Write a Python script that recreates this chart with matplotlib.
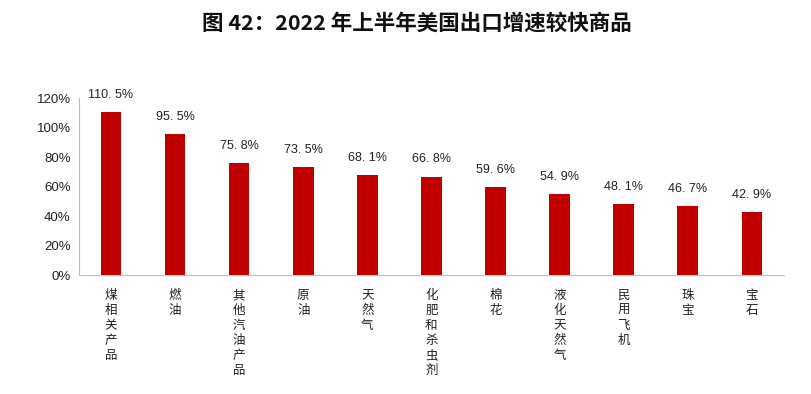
import numpy as np
import matplotlib.pyplot as plt

plt.rcParams['font.family'] = ['Noto Sans CJK SC', 'DejaVu Sans']

categories = ['煤相关产品', '燃油', '其他汽油产品', '原油', '天然气', '化肥和杀虫剂',
              '棉花', '液化天然气', '民用飞机', '珠宝', '宝石']
growth = [110.5, 95.5, 75.8, 73.5, 68.1, 66.8, 59.6, 54.9, 48.1, 46.7, 42.9]
yticks = [0, 20, 40, 60, 80, 100, 120]

fig = plt.figure(figsize=(8.12, 3.94), dpi=100)
ax = fig.add_axes([0.0973, 0.302, 0.868, 0.449])

x = np.arange(len(categories))
ax.bar(x, growth, width=0.32, color='#C00000')
for xi, v in zip(x, growth):
    ax.text(xi, v + 7.5, f'{v:.1f}%'.replace('.', '. '), ha='center', va='bottom',
            fontsize=9, family=['Liberation Sans', 'DejaVu Sans'], color='#222222',
            clip_on=False)

ax.set_xlim(-0.5, len(categories) - 0.5)
ax.set_ylim(0, 120)
ax.set_yticks(yticks)
ax.set_yticklabels([f'{t}%' for t in yticks], family=['Liberation Sans', 'DejaVu Sans'],
                   fontsize=9.5, color='#222222')
ax.set_xticks(x)
ax.set_xticklabels(['\n'.join(c) for c in categories], fontsize=9,
                   va='top', linespacing=1.2, color='#222222')
ax.tick_params(axis='both', length=0)
ax.tick_params(axis='x', pad=10)
ax.tick_params(axis='y', pad=6)

for s in ['top', 'right']:
    ax.spines[s].set_visible(False)
ax.spines['left'].set_color('#BFBFBF')
ax.spines['bottom'].set_color('#BFBFBF')

fig.text(0.513, 0.942, '图 42：2022 年上半年美国出口增速较快商品', ha='center', va='center',
         fontsize=15.5, fontweight='bold', color='#111111')

fig.savefig('out.png', dpi=100)
